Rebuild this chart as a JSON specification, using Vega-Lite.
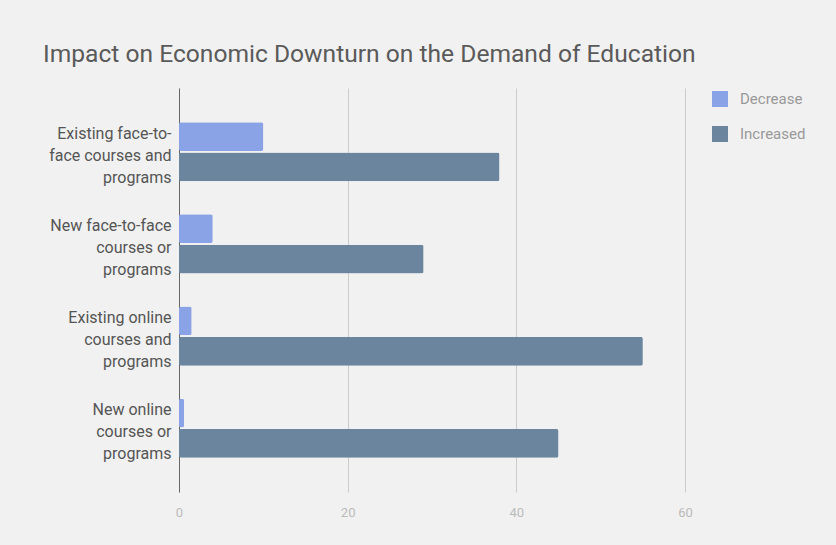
{
  "$schema": "https://vega.github.io/schema/vega-lite/v6.json",
  "autosize": {"type": "none"},
  "width": 506,
  "height": 404,
  "padding": {"left": 179, "top": 88, "right": 151, "bottom": 53},
  "background": "#f1f1f1",
  "title": {
    "text": "Impact on Economic Downturn on the Demand of Education",
    "anchor": "start",
    "frame": "group",
    "dx": -136,
    "dy": 23,
    "offset": 24,
    "baseline": "alphabetic",
    "font": "Roboto",
    "fontSize": 24.6,
    "fontWeight": "normal",
    "color": "#5a5a5a"
  },
  "data": {
    "values": [
      {"cat": "Existing face-to-|face courses and|programs", "series": "Decrease", "value": 10},
      {"cat": "Existing face-to-|face courses and|programs", "series": "Increased", "value": 38},
      {"cat": "New face-to-face|courses or|programs", "series": "Decrease", "value": 4},
      {"cat": "New face-to-face|courses or|programs", "series": "Increased", "value": 29},
      {"cat": "Existing online|courses and|programs", "series": "Decrease", "value": 1.5},
      {"cat": "Existing online|courses and|programs", "series": "Increased", "value": 55},
      {"cat": "New online|courses or|programs", "series": "Decrease", "value": 0.6},
      {"cat": "New online|courses or|programs", "series": "Increased", "value": 45}
    ]
  },
  "mark": {"type": "bar", "cornerRadius": 2},
  "encoding": {
    "y": {
      "field": "cat",
      "type": "nominal",
      "sort": null,
      "scale": {"paddingInner": 0.36, "paddingOuter": 0.37},
      "axis": {
        "title": null,
        "labelExpr": "split(datum.label, '|')",
        "labelFont": "Roboto",
        "labelFontSize": 16,
        "labelColor": "#555555",
        "labelLineHeight": 22,
        "labelPadding": 8,
        "labelLimit": 200,
        "labelOffset": -18,
        "ticks": false,
        "domainColor": "#666666",
        "domainWidth": 1
      }
    },
    "yOffset": {
      "field": "series",
      "type": "nominal",
      "scale": {"paddingInner": 0.05}
    },
    "x": {
      "field": "value",
      "type": "quantitative",
      "scale": {"domain": [0, 60], "nice": false},
      "axis": {
        "title": null,
        "values": [0, 20, 40, 60],
        "ticks": false,
        "domain": false,
        "grid": true,
        "gridColor": "#cccccc",
        "labelFont": "Roboto",
        "labelFontSize": 13,
        "labelColor": "#bbbbbb",
        "labelPadding": 14,
        "labelFlush": false
      }
    },
    "color": {
      "field": "series",
      "type": "nominal",
      "scale": {"domain": ["Decrease", "Increased"], "range": ["#8aa3e6", "#6c859e"]},
      "legend": {
        "title": null,
        "orient": "none",
        "legendX": 533,
        "legendY": 3,
        "symbolType": "square",
        "symbolSize": 256,
        "symbolStrokeWidth": 0,
        "symbolOpacity": 1,
        "rowPadding": 19,
        "labelFont": "Roboto",
        "labelFontSize": 15,
        "labelColor": "#999999",
        "labelOffset": 12
      }
    }
  },
  "config": {"view": {"stroke": null}}
}
